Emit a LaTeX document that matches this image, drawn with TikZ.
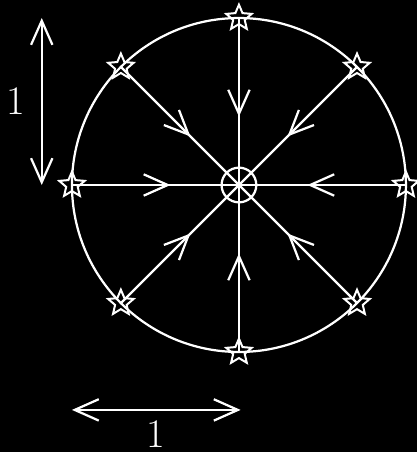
\documentclass[tikz,border=0pt]{standalone}
\usetikzlibrary{arrows.meta,shapes.geometric,decorations.markings}
\tikzset{
  fg/.style={white, line width=0.95pt},
  spoke/.style={fg, postaction={decorate},
    decoration={markings, mark=at position 0.59 with {\arrow{>}}}},
  starmark/.style={draw=white, line width=0.85pt, star, star points=5,
    star point ratio=2.2, minimum size=4mm, inner sep=0pt},
  hubmark/.style={draw=white, line width=0.95pt, circle, minimum size=5.2mm, inner sep=0pt},
  unitbar/.style={fg, <->},
  lab/.style={white, font=\LARGE, inner sep=0pt},
}
\begin{document}
\begin{tikzpicture}[x=2.5cm,y=2.5cm, >={Straight Barb[length=3.6mm,width=3.2mm]}]
  % black backdrop, fixes the margins
  \fill[black] (-1.431,-1.599) rectangle (1.066,1.108);
  \useasboundingbox (-1.431,-1.599) rectangle (1.066,1.108);

  % unit circle, hub and the eight boundary points
  \draw[fg] (0,0) circle (1);
  \node[hubmark] (hub) at (0,0) {};
  \foreach \i in {0,...,7}
    \node[starmark] (s\i) at (\i*45:1) {};

  % spokes, all flowing in to the hub
  \foreach \i in {0,...,7}
    \draw[spoke] (s\i.center) -- (hub.center);

  % unit length bars
  \coordinate (vtop) at (-1.181,1);
  \coordinate (vbot) at (-1.181,0);
  \draw[unitbar] (vtop) -- (vbot);
  \node[lab] (vlab) at (-1.338,0.503) {1};
  \coordinate (hleft) at (-1,-1.347);
  \coordinate (hright) at (0.01,-1.347);
  \draw[unitbar] (hleft) -- (hright);
  \node[lab] (hlab) at (-0.497,-1.49) {1};
\end{tikzpicture}
\end{document}
